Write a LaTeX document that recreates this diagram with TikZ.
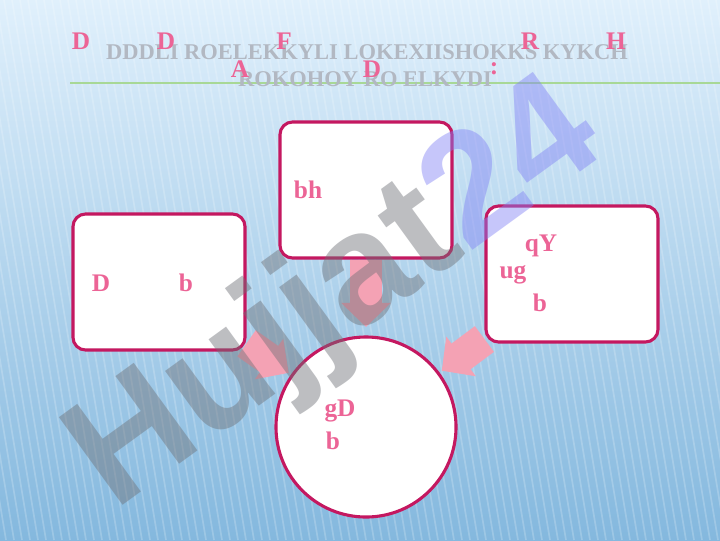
\documentclass[tikz,border=0pt]{standalone}
\usepackage{fontspec}
\setmainfont{Liberation Serif}
\newfontfamily\markfont{Liberation Sans}
\usetikzlibrary{positioning,arrows.meta}

\definecolor{boxline}{RGB}{196,24,96}
\definecolor{glyphpink}{RGB}{236,100,150}
\definecolor{arrowpink}{RGB}{244,162,180}
\definecolor{skytop}{RGB}{224,240,252}
\definecolor{skybottom}{RGB}{132,184,222}
\definecolor{titlegray}{RGB}{178,184,194}
\definecolor{rulegreen}{RGB}{168,216,150}
\definecolor{markgray}{RGB}{110,112,118}
\definecolor{markblue}{RGB}{130,130,245}

\pgfdeclarelayer{backdrop}
\pgfdeclarelayer{arrowlayer}
\pgfsetlayers{backdrop,arrowlayer,main}

\tikzset{
  card/.style={draw=boxline,line width=2.2pt,fill=white,rounded corners=9pt,
    minimum width=4.3cm,minimum height=3.4cm},
  ring/.style={draw=boxline,line width=2.2pt,fill=white,circle,minimum size=4.5cm},
  glyph/.style={text=glyphpink,font=\bfseries\fontsize{18}{18}\selectfont,inner sep=0pt},
  fatarrow/.style={draw=arrowpink,line width=0.8cm,-{Triangle[length=0.6cm,width=1.2cm]}},
}

\begin{document}
\begin{tikzpicture}[x=0.025cm,y=-0.025cm]
 \useasboundingbox (0,0) rectangle (720,540);

% backdrop
 \begin{pgfonlayer}{backdrop}
 \shade[top color=skytop,bottom color=skybottom] (0,0) rectangle (720,540);
 \foreach \s in {-300,-292,...,720}
  \draw[white,opacity=0.2,line width=1.2pt] (\s,0) -- (\s+90,540);
 \draw[rulegreen,line width=1.5pt] (70,83) -- (720,83);
 \end{pgfonlayer}

% title
 \node[text=titlegray,font=\bfseries\fontsize{16}{16}\selectfont] (titleone) at (367,52)
  {DDDLI ROELEKKYLI LOKEXIISHOKKS KYKCH};
 \node[text=titlegray,font=\bfseries\fontsize{16}{16}\selectfont] (titletwo) at (365,79)
  {ROKOHOY RO ELKYDI};
 \node[glyph] (ta) at (81,41) {D};
 \node[glyph] (tb) at (166,41) {D};
 \node[glyph] (tc) at (284,41) {F};
 \node[glyph] (td) at (530,41) {R};
 \node[glyph] (te) at (616,41) {H};
 \node[glyph] (tf) at (240,69) {A};
 \node[glyph] (tg) at (372,69) {D};
 \node[glyph] (th) at (494,69) {:};

% boxes
 \node[card] (leftcard) at (159,282) {};
 \node[card] (topcard) at (366,190) {};
 \node[card] (rightcard) at (572,274) {};
 \node[ring] (goal) at (366,427) {};

 \node[glyph] (la) at (101,283) {D};
 \node[glyph] (lb) at (186,283) {b};
 \node[glyph] (ma) at (308,190) {bh};
 \node[glyph] (ra) at (541,246) {qY};
 \node[glyph] (rb) at (513,275) {ug};
 \node[glyph] (rc) at (540,303) {b};
 \node[glyph] (ga) at (340,411) {gD};
 \node[glyph] (gb) at (333,441) {b};

% arrows
 \begin{pgfonlayer}{arrowlayer}
 \draw[fatarrow,shorten >=6pt] (topcard) -- (goal);
 \draw[fatarrow,shorten >=2pt] (leftcard) -- (goal);
 \draw[fatarrow,shorten >=2pt] (rightcard) -- (goal);
 \end{pgfonlayer}

% watermark
 \node[rotate=36,text=markgray,opacity=0.45,
  font=\markfont\bfseries\fontsize{112}{112}\selectfont] (mark) at (338,298)
  {Hujjat\textcolor{markblue}{24}};
\end{tikzpicture}
\end{document}
